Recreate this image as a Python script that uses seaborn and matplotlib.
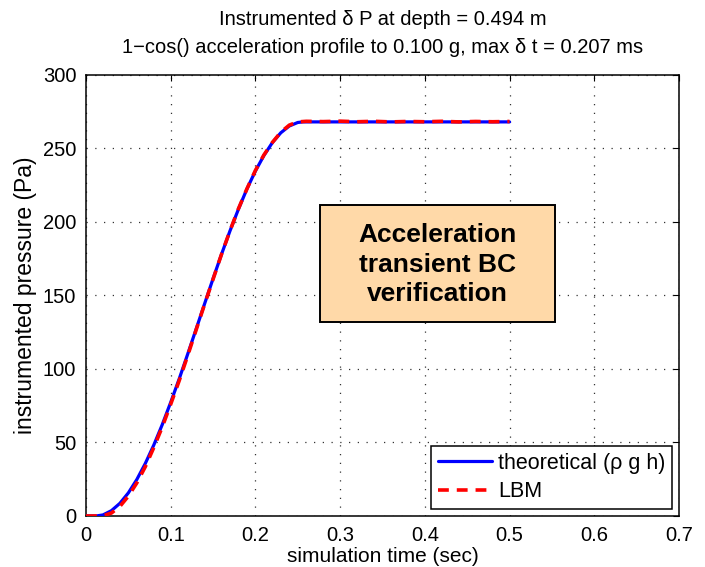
import matplotlib
matplotlib.use("Agg")
import matplotlib.pyplot as plt
from matplotlib.patches import Rectangle
import seaborn as sns
import pandas as pd

# ---- data ----
t_theory = [0.00, 0.01, 0.012, 0.02, 0.03, 0.04, 0.05, 0.06, 0.07, 0.08, 0.09, 0.10,
            0.11, 0.12, 0.13, 0.14, 0.15, 0.16, 0.17, 0.18, 0.19, 0.20, 0.21,
            0.22, 0.23, 0.24, 0.25, 0.256, 0.30, 0.35, 0.40, 0.45, 0.50]
p_theory = [0.0, 0.0, 0.0, 0.7, 3.6, 8.6, 15.7, 24.8, 35.7, 48.2, 62.1, 77.3,
            93.2, 110.0, 127.1, 144.3, 161.4, 178.0, 193.9, 208.7, 222.4, 234.6, 245.1,
            253.9, 260.6, 265.2, 267.6, 268.0, 268.0, 268.0, 268.0, 268.0, 268.0]

t_lbm = [0.00, 0.01, 0.02, 0.03, 0.04, 0.05, 0.06, 0.07, 0.08, 0.09, 0.10,
         0.11, 0.12, 0.13, 0.14, 0.15, 0.16, 0.17, 0.18, 0.19, 0.20, 0.21,
         0.22, 0.23, 0.24, 0.25, 0.26, 0.28, 0.30, 0.32, 0.34, 0.36, 0.38,
         0.40, 0.42, 0.44, 0.46, 0.48, 0.50]
p_lbm = [0.0, 0.0, 0.1, 2.0, 6.5, 13.5, 22.5, 33.5, 46.5, 60.5, 76.0,
         92.0, 109.0, 126.5, 144.0, 161.0, 178.0, 194.0, 209.0, 222.5, 235.0, 245.5,
         254.0, 261.0, 265.8, 268.0, 268.4, 268.2, 268.5, 268.1, 268.4, 268.0, 268.3,
         268.1, 268.4, 268.0, 268.3, 268.1, 268.3]

x_ticks = [0, 0.1, 0.2, 0.3, 0.4, 0.5, 0.6, 0.7]
x_tick_labels = ["0", "0.1", "0.2", "0.3", "0.4", "0.5", "0.6", "0.7"]
y_ticks = [0, 50, 100, 150, 200, 250, 300]

sns.set_style("white")
plt.rcParams["font.family"] = ["Liberation Sans", "DejaVu Sans"]
plt.rcParams["text.color"] = "black"
plt.rcParams["axes.labelcolor"] = "black"
plt.rcParams["xtick.color"] = "black"
plt.rcParams["ytick.color"] = "black"

fig = plt.figure(figsize=(7.05, 5.67), dpi=100)
ax = fig.add_axes([0.122, 0.090, 0.841, 0.778])

df_t = pd.DataFrame({"t": t_theory, "p": p_theory})
df_l = pd.DataFrame({"t": t_lbm, "p": p_lbm})
sns.lineplot(data=df_t, x="t", y="p", ax=ax, color="#0000ff", lw=2.3,
             label="theoretical (\u03c1 g h)", zorder=3)
sns.lineplot(data=df_l, x="t", y="p", ax=ax, color="#ff0000", lw=2.6,
             linestyle=(0, (3, 2.2)), label="LBM", zorder=4)

ax.set_xlim(0, 0.7)
ax.set_ylim(0, 300)
ax.set_xticks(x_ticks)
ax.set_xticklabels(x_tick_labels)
ax.set_yticks(y_ticks)
ax.tick_params(direction="in", length=4, width=0.8, labelsize=14.5, top=True, right=True,
               pad=7, colors="black")
ax.grid(True, linestyle=(0, (1, 6)), color="#333333", lw=0.9)
for s in ax.spines.values():
    s.set_visible(True)
    s.set_color("black")
    s.set_linewidth(1.1)

ax.set_xlabel("simulation time (sec)", fontsize=15, labelpad=2, color="black")
ax.set_ylabel("instrumented pressure (Pa)", fontsize=16.5, labelpad=4, color="black")
ax.set_title("Instrumented \u03b4 P at depth = 0.494 m\n"
             "1\u2212cos() acceleration profile to 0.100 g, max \u03b4 t = 0.207 ms",
             fontsize=14.5, pad=16, linespacing=1.55, color="black")

# annotation box
ax.add_patch(Rectangle((0.276, 131.8), 0.278, 79.7, facecolor="#FFD9A8",
                       edgecolor="black", lw=1.4, zorder=5))
ax.text(0.415, 171.0, "Acceleration\ntransient BC\nverification", ha="center", va="center",
        fontsize=19, fontweight="bold", linespacing=1.3, zorder=6, color="black")

leg = ax.legend(loc="lower right", fontsize=15.5, frameon=True, fancybox=False,
                handlelength=2.5, borderpad=0.3, labelspacing=0.35, handletextpad=0.3,
                borderaxespad=0.33)
leg.get_frame().set_edgecolor("black")
leg.get_frame().set_linewidth(1.1)
leg.get_frame().set_alpha(1)
for txt in leg.get_texts():
    txt.set_color("black")

fig.savefig("out.png", dpi=100)
